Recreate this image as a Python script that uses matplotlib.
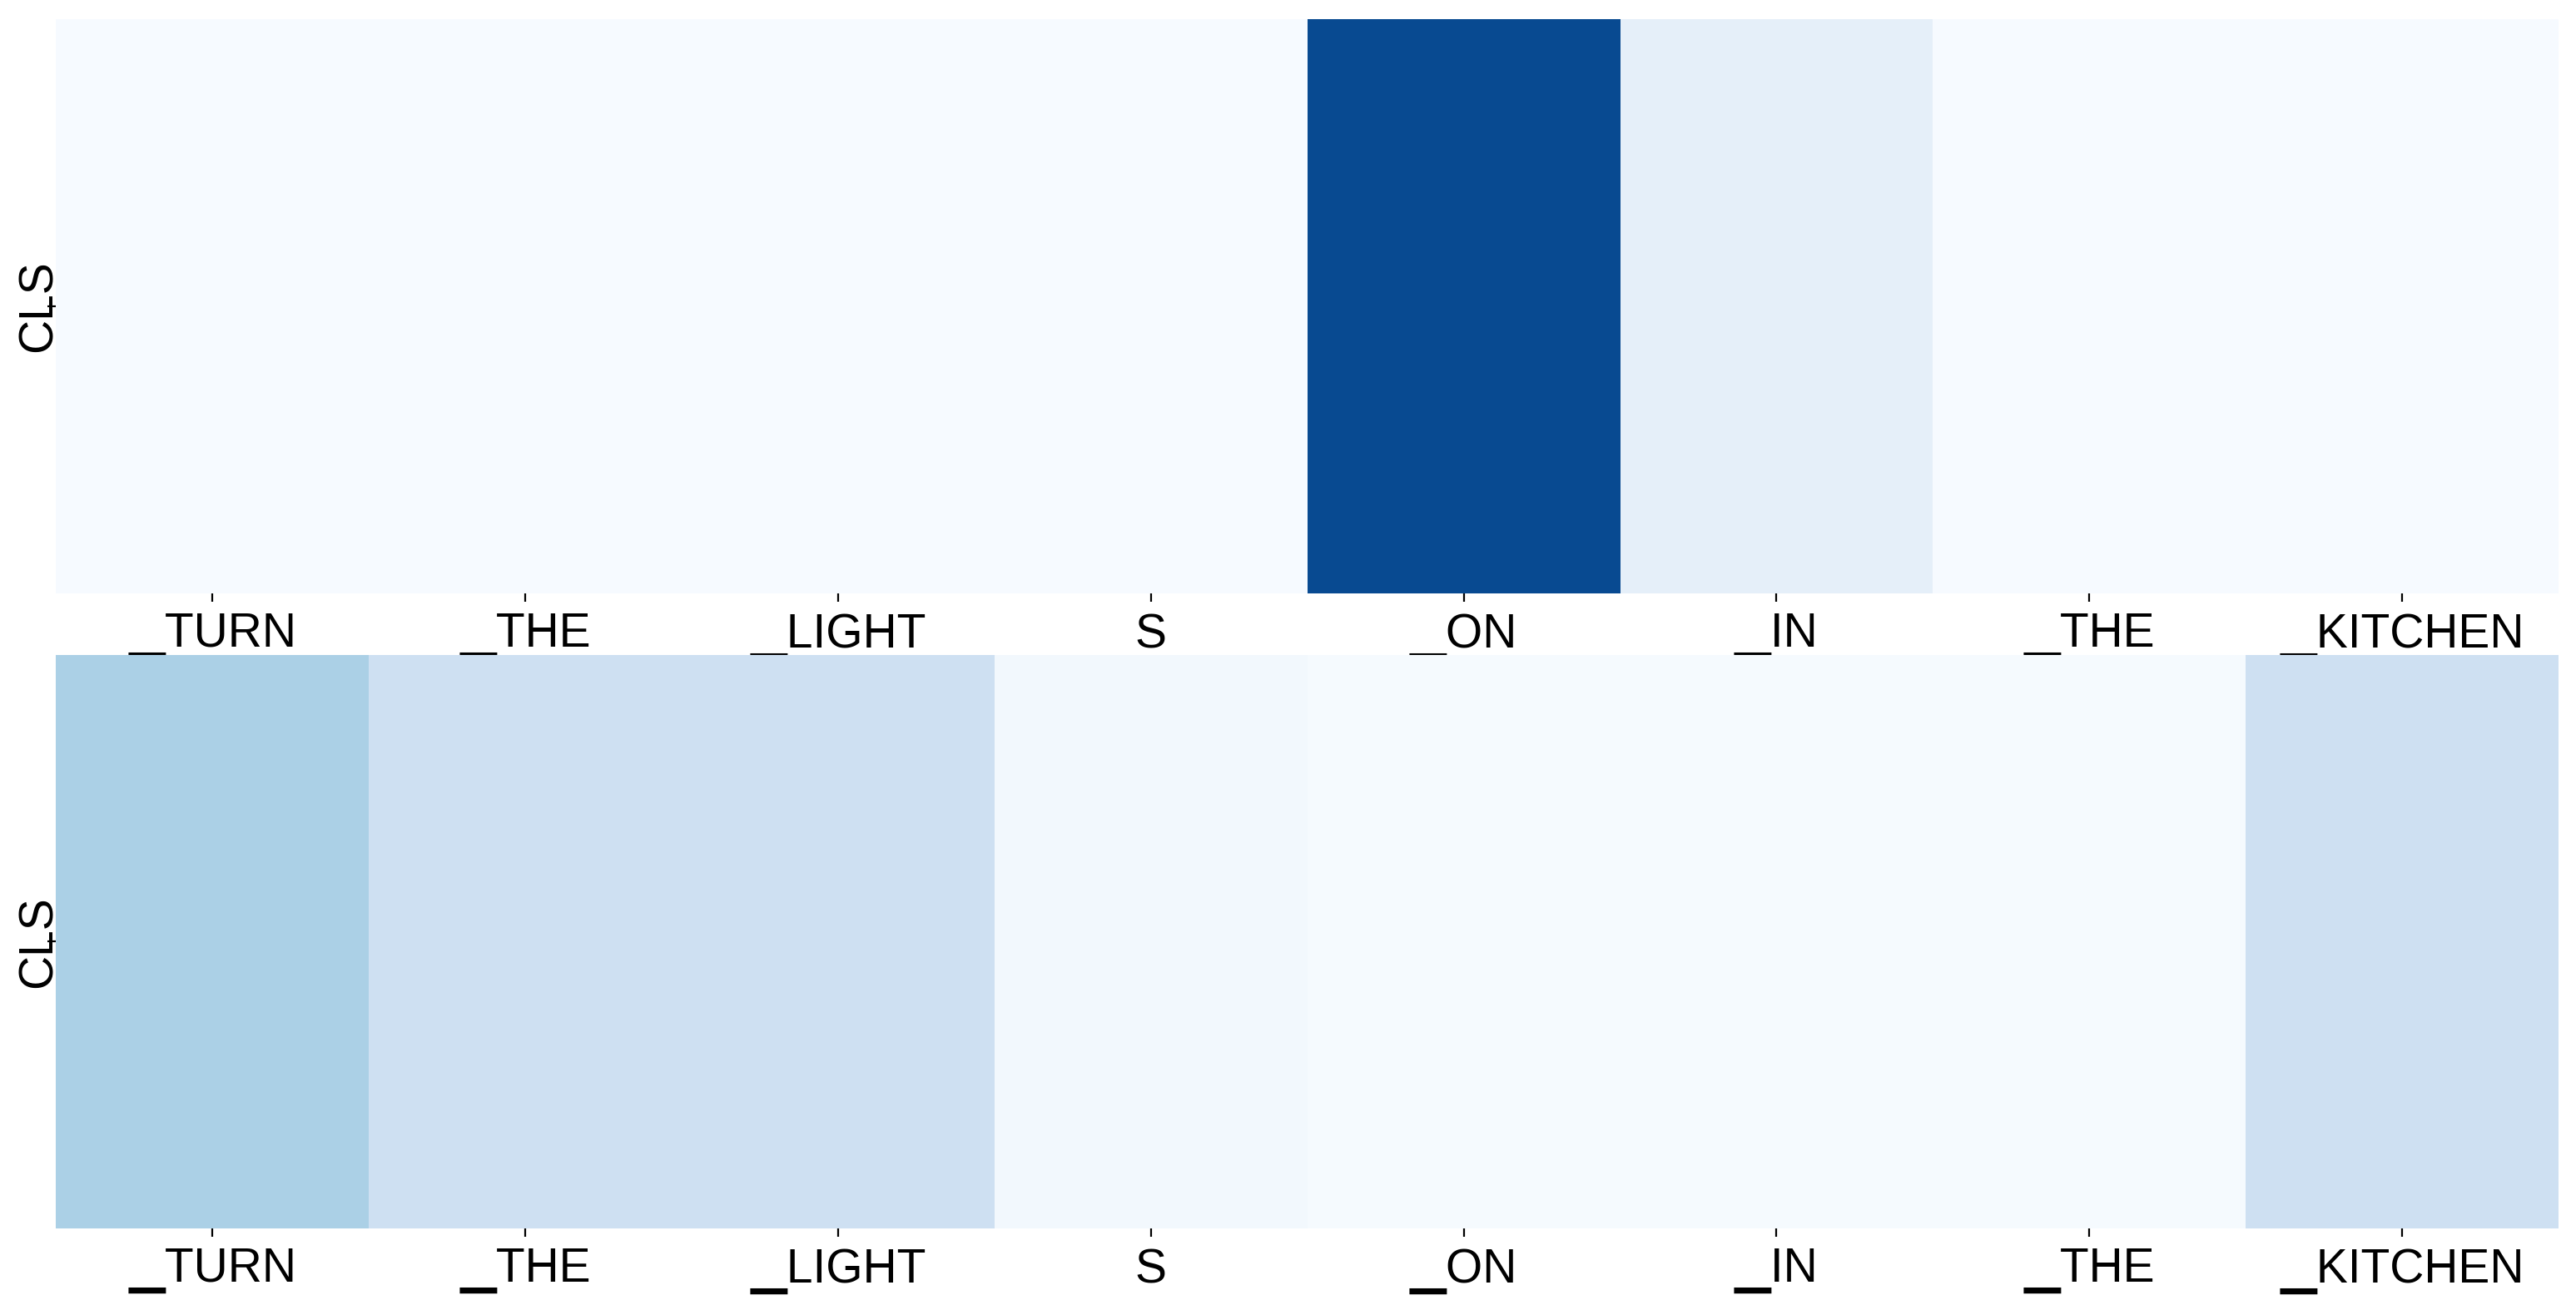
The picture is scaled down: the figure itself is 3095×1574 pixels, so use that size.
import matplotlib
matplotlib.use("Agg")
import matplotlib.pyplot as plt
import seaborn as sns
import numpy as np

tokens = ["\u2581TURN", "\u2581THE", "\u2581LIGHT", "S", "\u2581ON", "\u2581IN", "\u2581THE", "\u2581KITCHEN"]
row_label = ["CLS"]
attn_top = [0.005, 0.005, 0.005, 0.005, 0.90, 0.09, 0.005, 0.005]
attn_bottom = [0.335, 0.21, 0.21, 0.025, 0.01, 0.01, 0.01, 0.21]

plt.rcParams['font.family'] = ['Liberation Sans', 'DejaVu Sans']

fig = plt.figure(figsize=(15.475, 7.87), dpi=200)
left, width = 0.02175, 0.97147
ax1 = fig.add_axes([left, 0.54721, width, 0.43837])
ax2 = fig.add_axes([left, 0.06245, width, 0.43774])

for ax, vals in [(ax1, attn_top), (ax2, attn_bottom)]:
    sns.heatmap(np.array([vals]), ax=ax, cmap="Blues", vmin=0, vmax=1, cbar=False,
                xticklabels=tokens, yticklabels=row_label)
    ax.set_xticklabels(tokens, fontsize=20.5, rotation=0)
    ax.set_yticklabels(row_label, fontsize=20.5, rotation=90, va="center")
    ax.tick_params(axis='x', length=3.5, width=0.8, pad=5.2)
    ax.tick_params(axis='y', length=3.5, width=0.8, pad=-5.9)

fig.savefig("out.png", dpi=200)
